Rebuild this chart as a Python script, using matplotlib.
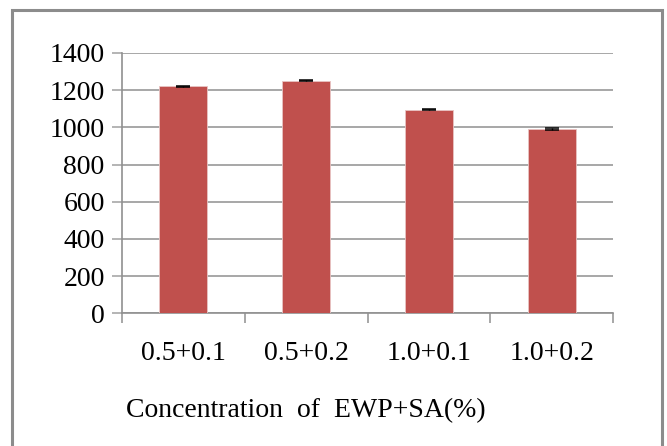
import matplotlib
matplotlib.use("Agg")
import matplotlib.pyplot as plt
from matplotlib.patches import Rectangle
import numpy as np

categories = ["0.5+0.1", "0.5+0.2", "1.0+0.1", "1.0+0.2"]
values = [1220, 1252, 1095, 990]
errors = [4, 3, 3, 6]
yticks = [0, 200, 400, 600, 800, 1000, 1200, 1400]
xlabel = "Concentration  of  EWP+SA(%)"

plt.rcParams['font.family'] = ['Liberation Serif', 'DejaVu Serif']

W, H = 667, 446
fig = plt.figure(figsize=(W / 100, H / 100), dpi=100)
ax = fig.add_axes([122 / W, 1 - 313.3 / H, (613 - 122) / W, (313.3 - 53) / H])

x = np.arange(len(categories))
ax.bar(x, values, width=0.39, color='#C0504D', edgecolor='#E8C4C3', linewidth=0.6, zorder=3)
ax.errorbar(x, values, yerr=errors, fmt='none', ecolor='black', elinewidth=1.0,
            capsize=5, capthick=1.1, zorder=4)

ax.set_xlim(-0.5, len(categories) - 0.5)
ax.set_ylim(0, 1400)
ax.set_yticks(yticks)
ax.set_yticklabels([str(v) for v in yticks], fontsize=20)
ax.yaxis.grid(True, color='#A0A0A0', linewidth=1.3, zorder=0)
ax.set_axisbelow(True)

ax.set_xticks(x)
ax.set_xticklabels(categories, fontsize=20)
ax.set_xticks(np.arange(len(categories) + 1) - 0.5, minor=True)
ax.tick_params(axis='x', which='major', length=0, pad=20)
ax.tick_params(axis='x', which='minor', length=7, width=1.1, color='#909090', direction='out')
ax.tick_params(axis='y', which='major', length=7.5, width=1.1, color='#A0A0A0', direction='out', pad=5)

for s in ['top', 'right']:
    ax.spines[s].set_visible(False)
for s in ['left', 'bottom']:
    ax.spines[s].set_color('#909090')
    ax.spines[s].set_linewidth(1.2)

fig.text(306 / W, 1 - 411 / H, xlabel, fontsize=20, ha='center', va='center')

fig.patches.append(Rectangle((12 / W, -0.05), (662 - 12) / W, 1.05 - 10 / H,
                             transform=fig.transFigure, fill=False,
                             edgecolor='#8C8C8C', linewidth=2.2))

fig.savefig("out.png", dpi=100)
